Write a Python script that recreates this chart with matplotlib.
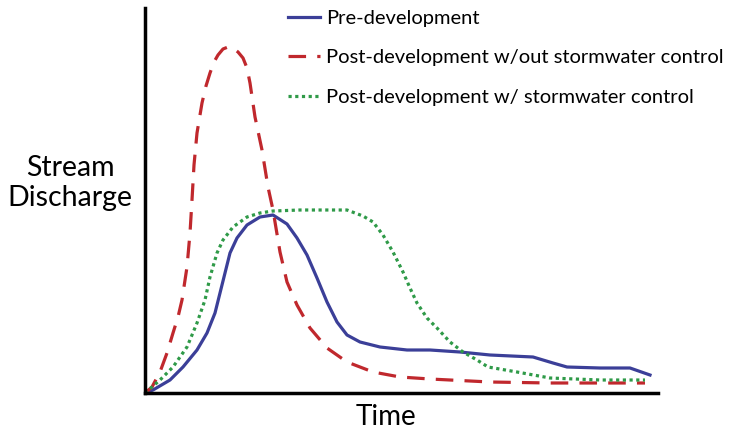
import numpy as np
import matplotlib
matplotlib.use('Agg')
from matplotlib import pyplot as plt

plt.rcParams['font.family'] = ['Lato', 'DejaVu Sans']

# curves (x: time, y: discharge)
pre_x = [0, 8, 25, 38, 52, 62, 70, 75, 80, 85, 92, 102, 115, 128, 142, 152, 162, 172, 182,
         192, 202, 215, 235, 262, 285, 315, 345, 388, 408, 422, 455, 485, 505]
pre_y = [0, 3, 13, 26, 43, 60, 80, 100, 120, 140, 155, 168, 176, 178, 169, 155, 138, 115, 91,
         71, 58, 51, 46, 43, 43, 41, 38, 36, 30, 26, 25, 25, 18]

post_x = [0, 7, 15, 22, 28, 33, 37, 42, 45, 47, 49, 52, 57, 61, 65, 69, 73, 78, 83, 88, 93,
          98, 102, 105, 110, 117, 123, 128, 135, 142, 152, 165, 182, 202, 228, 255, 285, 345,
          405, 455, 500]
post_y = [0, 6, 21, 40, 60, 76, 93, 126, 160, 193, 228, 260, 290, 307, 320, 331, 338, 344,
          346, 345, 341, 335, 325, 310, 276, 243, 206, 183, 141, 111, 88, 65, 45, 31, 21, 16,
          14, 11, 10, 10, 10]

ctrl_x = [0, 15, 28, 42, 52, 60, 65, 72, 78, 88, 102, 115, 128, 155, 202, 218, 228, 238, 248,
          258, 265, 272, 282, 292, 305, 318, 332, 343, 372, 405, 455, 500]
ctrl_y = [0, 13, 26, 46, 70, 93, 116, 140, 153, 166, 176, 180, 182, 183, 183, 177, 171, 158,
          141, 121, 105, 90, 75, 65, 51, 41, 33, 26, 21, 15, 13, 13]

fig = plt.figure(figsize=(7.32, 4.38), dpi=100)
ax = fig.add_axes([145 / 732, 1 - 393 / 438, 513 / 732, 385 / 438])

ax.plot(pre_x, pre_y, color='#3b3f98', lw=2.3, label='Pre-development')
ax.plot(post_x, post_y, color='#c0282d', lw=2.3, dashes=(5.5, 3.5),
        label='Post-development w/out stormwater control')
ax.plot(ctrl_x, ctrl_y, color='#2f9a48', lw=2.3, ls=(0, (1, 1.1)),
        label='Post-development w/ stormwater control')

ax.set_xlim(0, 513)
ax.set_ylim(0, 385)
ax.set_xticks([])
ax.set_yticks([])
ax.spines['top'].set_visible(False)
ax.spines['right'].set_visible(False)
ax.spines['left'].set_linewidth(2.5)
ax.spines['bottom'].set_linewidth(2.5)

fig.text(386 / 732, 1 - 417 / 438, 'Time', fontsize=20, ha='center', va='center')
fig.text(70 / 732, 1 - 183 / 438, 'Stream\nDischarge', fontsize=20.5,
         ha='center', va='center', linespacing=1.2)

leg = ax.legend(loc='upper left', bbox_to_anchor=(280 / 732, 1 - 2 / 438),
                bbox_transform=fig.transFigure, frameon=False, fontsize=14.5,
                handlelength=1.6, handletextpad=0.3, labelspacing=1.1,
                borderaxespad=0)

fig.savefig('out.png', dpi=100)
